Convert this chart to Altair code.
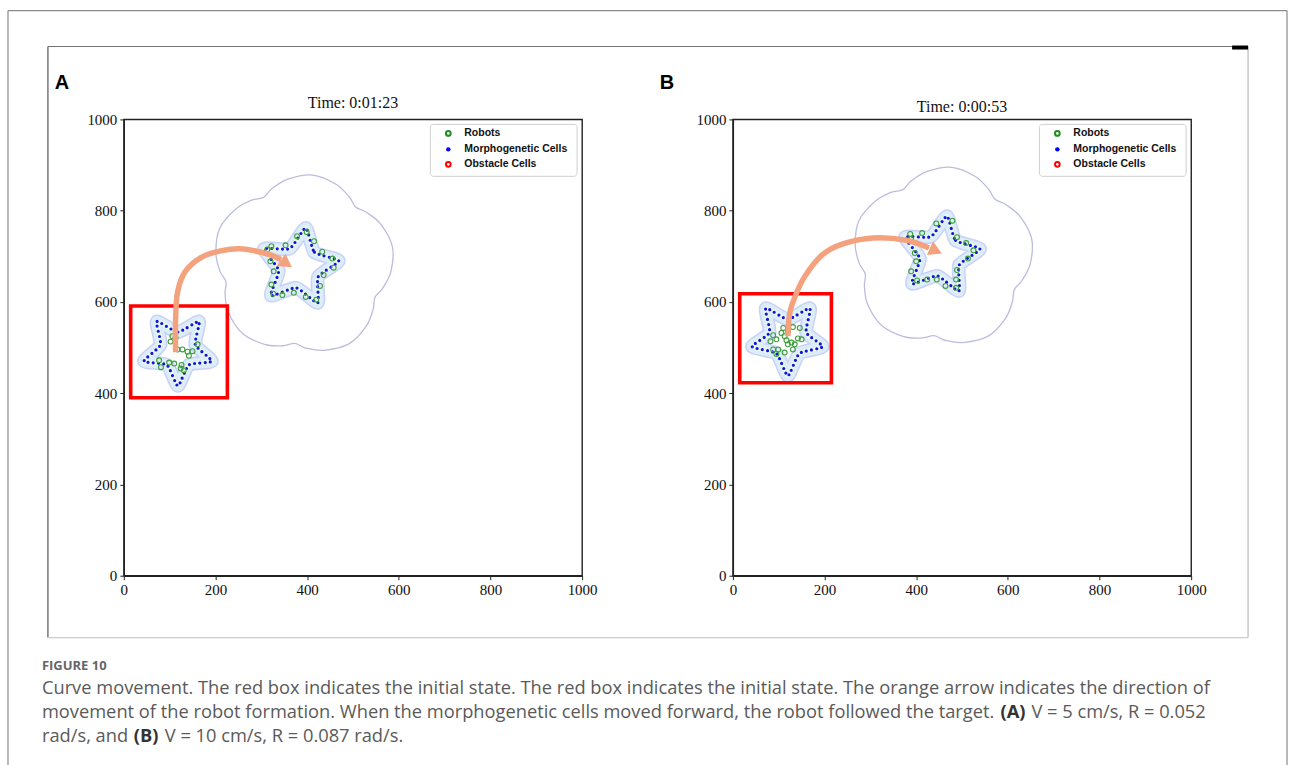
import altair as alt
import pandas as pd

W, H = 459, 457
TICKS = [0, 200, 400, 600, 800, 1000]

# ---------------- data (data units 0..1000) ----------------
# star outlines (vertices, outer/inner alternating)
star_a_init = [(72, 557), (118, 534), (164, 557), (156, 506), (192, 470),
               (142, 462), (118, 416), (94, 462), (44, 470), (80, 506)]
star_a_target = [(397, 762), (416, 709), (469, 690), (424, 655), (423, 598),
                 (376, 631), (321, 614), (338, 669), (306, 716), (362, 717)]
star_b_init = [(72, 586), (120, 562), (168, 586), (160, 533), (196, 502),
               (145, 487), (120, 438), (95, 487), (42, 502), (80, 533)]
star_b_target = [(467, 788), (486, 735), (539, 716), (494, 681), (493, 624),
                 (446, 657), (391, 640), (408, 695), (376, 742), (432, 743)]

# scalloped boundary (offsets from its centre) and centres
flower_dx = [-86, -112, -147, -182, -190, -181, -168, -170, -163, -133, -84, -44, -18, 6, 46,
             100, 138, 153, 157, 174, 192, 195, 170, 139, 115, 101, 72, 21, -33, -68]
flower_dy = [149, 143, 123, 81, 27, -13, -36, -62, -102, -148, -173, -176, -171, -181, -186,
             -172, -133, -96, -70, -50, -13, 41, 90, 116, 128, 150, 178, 198, 189, 168]
flower_center_a = (391, 680)
flower_center_b = (457, 697)

# robots
robots_a_init = [(106, 525), (113, 521), (102, 513), (128, 496), (139, 491), (150, 492), (142, 482),
                 (161, 507), (77, 472), (81, 457), (99, 467), (110, 465), (126, 462), (124, 454),
                 (131, 450), (117, 496)]
robots_a_target = [(313, 715), (322, 722), (353, 724), (378, 744), (399, 753), (415, 733), (433, 710),
                   (455, 695), (458, 675), (436, 659), (428, 635), (420, 605), (397, 611), (371, 620),
                   (346, 615), (326, 618), (322, 638), (327, 667), (320, 689)]
robots_b_init = [(110, 543), (120, 536), (131, 545), (146, 543), (106, 532), (113, 525), (88, 527),
                 (82, 514), (95, 518), (117, 516), (128, 511), (142, 520), (150, 518), (135, 507),
                 (120, 507), (88, 496), (99, 496), (95, 486), (113, 489), (131, 496)]
robots_b_target = [(387, 749), (389, 738), (413, 751), (444, 772), (479, 778), (489, 742), (509, 729),
                   (525, 713), (513, 695), (489, 670), (487, 649), (487, 631), (464, 635), (445, 649),
                   (424, 649), (402, 647), (389, 667), (397, 707), (400, 689)]

# arrows
arrow_a = [(113, 490), (113, 560), (117, 620), (133, 665), (168, 697), (211, 712), (261, 716),
           (314, 705), (343, 693)]
arrow_a_head = (355, 684)
arrow_b = [(120, 525), (124, 575), (135, 610), (157, 656), (195, 703), (240, 727), (306, 740),
           (378, 735), (428, 718)]
arrow_b_head = (443, 712)

# red boxes (x0, y0, x1, y1)
box_a = (15, 390, 226, 591)
box_b = (15, 423, 215, 618)

legend_labels = ["Robots", "Morphogenetic Cells", "Obstacle Cells"]
legend_colors = ["#1e8c1e", "#0000ff", "#ff0000"]
legend_filled = [False, True, False]

titles = ["Time: 0:01:23", "Time: 0:00:53"]
letters = ["A", "B"]

caption_head = "FIGURE 10"
caption_1 = ("Curve movement. The red box indicates the initial state. The red box indicates the "
             "initial state. The orange arrow indicates the direction of")
caption_2a = ("movement of the robot formation. When the morphogenetic cells moved forward, "
              "the robot followed the target.")
caption_2b = "(A)"
caption_2c = "V = 5 cm/s, R = 0.052"
caption_3a = "rad/s, and"
caption_3b = "(B)"
caption_3c = "V = 10 cm/s, R = 0.087 rad/s."

# ---------------- helpers ----------------
SCALE = alt.Scale(domain=[0, 1000], nice=False, zero=False)
X = alt.X("x:Q", scale=SCALE, title=None, axis=alt.Axis(values=TICKS, format="d"))
Y = alt.Y("y:Q", scale=SCALE, title=None, axis=alt.Axis(values=TICKS, format="d"))


def pts_df(pts):
    return pd.DataFrame({"i": list(range(len(pts))),
                         "x": [p[0] for p in pts],
                         "y": [p[1] for p in pts]})


def one():
    return pd.DataFrame({"a": [1]})


def star_layers(pts):
    base = alt.Chart(pts_df(pts)).encode(x=X, y=Y, order="i:Q")
    common = dict(interpolate="cardinal-closed", tension=0.45, strokeJoin="round")
    return [
        base.mark_line(color="#c9d1f6", strokeWidth=14, **common),
        base.mark_line(color="#dbecfa", strokeWidth=11, **common),
        base.mark_line(color="#eaf8ea", strokeWidth=4.5, **common),
        base.mark_line(color="#1212e0", strokeWidth=3.2, strokeCap="round",
                       strokeDash=[0, 5.2], **common),
    ]


def robots_layer(pts):
    return alt.Chart(pts_df(pts)).mark_point(
        shape="circle", filled=False, color="#3c9e3c", strokeWidth=1.1, size=24, opacity=1
    ).encode(x=X, y=Y)


def flower_layer(center):
    pts = [(center[0] + dx, center[1] + dy) for dx, dy in zip(flower_dx, flower_dy)]
    return alt.Chart(pts_df(pts)).mark_line(
        interpolate="cardinal-closed", color="#bcbce0", strokeWidth=1.3
    ).encode(x=X, y=Y, order="i:Q")


def box_layer(b):
    d = pd.DataFrame({"x": [b[0]], "x1": [b[2]], "y": [b[1]], "y1": [b[3]]})
    return alt.Chart(d).mark_rect(filled=False, stroke="#ff0000", strokeWidth=3.6).encode(
        x=X, x2="x1:Q", y=Y, y2="y1:Q")


def arrow_layers(path, head, angle):
    line = alt.Chart(pts_df(path)).mark_line(
        interpolate="cardinal", color="#f4a27e", strokeWidth=5.5, strokeCap="butt"
    ).encode(x=X, y=Y, order="i:Q")
    hd = alt.Chart(pts_df([head])).mark_point(
        shape="triangle-right", filled=True, color="#f4a27e", size=230, angle=angle, opacity=1
    ).encode(x=X, y=Y)
    return [line, hd]


def text_layer(t, x, y, size, font, weight="normal", color="#111", align="left", baseline="middle"):
    return alt.Chart(pd.DataFrame({"t": [t]})).mark_text(
        align=align, baseline=baseline, font=font, fontSize=size, fontWeight=weight, color=color
    ).encode(x=alt.value(x), y=alt.value(y), text="t:N")


def rule(x, x2, y, y2, color, width):
    return alt.Chart(one()).mark_rule(color=color, strokeWidth=width).encode(
        x=alt.value(x), x2=alt.value(x2), y=alt.value(y), y2=alt.value(y2))


def legend_layers():
    lay = [alt.Chart(one()).mark_rect(fill="white", stroke="#cfcfcf", strokeWidth=1, cornerRadius=3).encode(
        x=alt.value(307), x2=alt.value(454), y=alt.value(5), y2=alt.value(57))]
    rows = [14, 30, 45]
    for lab, col, fil, ry in zip(legend_labels, legend_colors, legend_filled, rows):
        lay.append(alt.Chart(one()).mark_point(
            shape="circle", filled=fil, color=col, size=20 if fil else 22,
            strokeWidth=2, opacity=1).encode(x=alt.value(325), y=alt.value(ry)))
        lay.append(text_layer(lab, 341, ry, 10.5, "Liberation Sans", "bold", "#111"))
    return lay


def panel(idx, star_init, star_target, flower_c, r_init, r_target, box, arrow, head, angle, extra):
    layers = list(extra)
    layers.append(flower_layer(flower_c))
    layers += star_layers(star_init)
    layers += star_layers(star_target)
    layers.append(robots_layer(r_init))
    layers.append(robots_layer(r_target))
    layers.append(box_layer(box))
    layers += arrow_layers(arrow, head, angle)
    layers += legend_layers()
    layers.append(text_layer(titles[idx], W / 2, -16 if idx == 0 else -12, 16, "Liberation Serif",
                             "normal", "#111", "center"))
    layers.append(text_layer(letters[idx], -62 if idx == 0 else -66, -36, 20, "Liberation Sans", "bold",
                             "#000", "center"))
    return alt.layer(*layers).properties(width=W, height=H)


# page decorations (positions relative to panel A plot origin), drawn in panel A
CAP = "#5a5a5a"
CF = "Open Sans"
CS = 18.3
deco = [
    alt.Chart(one()).mark_rect(color="white", opacity=0).encode(
        x=alt.value(-123), x2=alt.value(1169), y=alt.value(-118), y2=alt.value(647)),
    rule(-116, 1165, -109, -109, "#8a8a8a", 1.2),
    rule(-116, -116, -109, 647, "#8a8a8a", 1.2),
    rule(1165, 1165, -109, 647, "#8a8a8a", 1.2),
    rule(-76, 1126, -73, -73, "#777777", 1.2),
    rule(-76, -76, -73, 519, "#555555", 1.2),
    rule(1126, 1126, -73, 519, "#bbbbbb", 1.2),
    rule(-76, 1126, 519, 519, "#cccccc", 1.2),
    rule(1110, 1126, -72, -72, "#000000", 4),
    text_layer(caption_head, -82, 547, 13, CF, "bold", "#666"),
    text_layer(caption_1, -82, 570, CS, CF, "normal", CAP),
    text_layer(caption_2a, -82, 595, CS, CF, "normal", CAP),
    text_layer(caption_2b, 878, 595, CS, CF, "bold", "#333"),
    text_layer(caption_2c, 909, 595, CS, CF, "normal", CAP),
    text_layer(caption_3a, -82, 619, CS, CF, "normal", CAP),
    text_layer(caption_3b, 10, 619, CS, CF, "bold", "#333"),
    text_layer(caption_3c, 41, 619, CS, CF, "normal", CAP),
]

panel_a = panel(0, star_a_init, star_a_target, flower_center_a, robots_a_init, robots_a_target,
                box_a, arrow_a, arrow_a_head, 35, deco)
panel_b = panel(1, star_b_init, star_b_target, flower_center_b, robots_b_init, robots_b_target,
                box_b, arrow_b, arrow_b_head, 25, [])

chart = alt.hconcat(panel_a, panel_b, spacing=151, bounds="flush").properties(
    padding=0, background="white"
).configure_view(
    stroke="#222222", strokeWidth=1.4
).configure_axis(
    grid=False, labelFont="Liberation Serif", labelFontSize=15, labelColor="#111",
    tickColor="#222", tickSize=4, tickWidth=1, domainColor="#222", domainWidth=1.4,
    labelPadding=3, labelFlush=False
)

chart.save("out.html", embed_options={"renderer": "svg", "actions": False})
